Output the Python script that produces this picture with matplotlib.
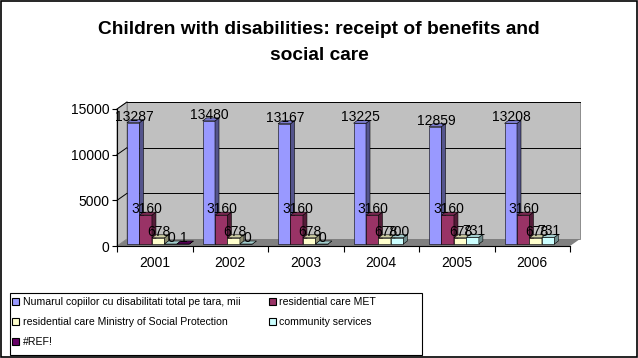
import matplotlib
matplotlib.use("Agg")
import matplotlib.pyplot as plt
import matplotlib.colors as mcolors
from matplotlib.patches import Polygon, Rectangle

years = ["2001", "2002", "2003", "2004", "2005", "2006"]
total_children = [13287, 13480, 13167, 13225, 12859, 13208]
residential_met = [3160, 3160, 3160, 3160, 3160, 3160]
residential_msp = [678, 678, 678, 678, 678, 678]
community = [0, 0, 0, 700, 731, 731]
ref_err = [1, None, None, None, None, None]

series_names = ["Numarul copiilor cu disabilitati total pe tara, mii",
                "residential care MET",
                "residential care Ministry of Social Protection",
                "community services",
                "#REF!"]
series_values = [total_children, residential_met, residential_msp, community, ref_err]
series_colors = ["#9999FF", "#993366", "#FFFFCC", "#CCFFFF", "#660066"]

plt.rcParams["font.family"] = ["Liberation Sans", "DejaVu Sans"]

W, H = 638, 358
fig = plt.figure(figsize=(W / 100, H / 100), dpi=100)
ax = fig.add_axes([117 / W, 1 - 246 / H, (570 - 117) / W, (246 - 109) / H])
ax.set_xlim(0, 6)
ax.set_ylim(0, 15000)
ax.patch.set_visible(False)

# pixel -> data unit conversion for the fake 3d depth
ux = 6 / (570 - 117)
uy = 15000 / (246 - 109)
wall_dx, wall_dy = 10 * ux, 7 * uy
bar_ox, bar_oy = 3 * ux, 2 * uy
bar_dx, bar_dy = 4 * ux, 3 * uy

def poly(pts, fc, ec="none", z=0, lw=0.6):
    ax.add_patch(Polygon(pts, closed=True, facecolor=fc, edgecolor=ec,
                         linewidth=lw, zorder=z, clip_on=False))

# walls and floor
poly([(wall_dx, wall_dy), (6 + wall_dx, wall_dy), (6 + wall_dx, 15000 + wall_dy),
      (wall_dx, 15000 + wall_dy)], "#C0C0C0", "#808080", z=0)
poly([(0, 0), (wall_dx, wall_dy), (wall_dx, 15000 + wall_dy), (0, 15000)],
     "#C0C0C0", "#808080", z=0)
poly([(0, 0), (6, 0), (6 + wall_dx, wall_dy), (wall_dx, wall_dy)], "#808080", z=0.5)

for v in [5000, 10000, 15000]:
    ax.plot([wall_dx, 6 + wall_dx], [v + wall_dy, v + wall_dy], color="black", lw=0.7,
            zorder=0.3, clip_on=False)
    ax.plot([0, wall_dx], [v, v + wall_dy], color="black", lw=0.7, zorder=0.3, clip_on=False)

bar_w = 0.165
z = 1
for i in range(len(years)):
    for k, vals in enumerate(series_values):
        v = vals[i]
        if v is None:
            continue
        left = i + 0.133 + k * bar_w
        col = series_colors[k]
        rgb = mcolors.to_rgb(col)
        side = tuple(c * 0.55 for c in rgb)
        top = tuple(c * 0.8 for c in rgb)
        ax.bar(left, v, width=bar_w, bottom=bar_oy, align="edge", color=col,
               edgecolor="black", linewidth=0.4, zorder=z, clip_on=False)
        b, t, r = bar_oy, bar_oy + v, left + bar_w
        poly([(r, b), (r + bar_dx, b + bar_dy), (r + bar_dx, t + bar_dy), (r, t)],
             side, "black", z=z, lw=0.4)
        poly([(left, t), (r, t), (r + bar_dx, t + bar_dy), (left + bar_dx, t + bar_dy)],
             top, "black", z=z, lw=0.4)
        ax.annotate(str(v), xy=(left + bar_w / 2, t), xytext=(1, 6),
                    textcoords="offset pixels", ha="center", va="center",
                    fontsize=10, zorder=50)
        z += 1

# axes styling
for s in ["top", "right"]:
    ax.spines[s].set_visible(False)
ax.spines["left"].set_linewidth(0.8)
ax.spines["bottom"].set_linewidth(0.8)
ax.set_yticks([0, 5000, 10000, 15000])
ax.tick_params(axis="y", direction="out", length=3.5, width=0.8, pad=2, labelsize=10)
ax.set_xticks(range(7))
ax.set_xticklabels([])
ax.set_xticks([i + 0.5 for i in range(6)], minor=True)
ax.set_xticklabels(years, minor=True)
ax.tick_params(axis="x", which="major", direction="out", length=4, width=0.8)
ax.tick_params(axis="x", which="minor", length=0, pad=7, labelsize=10)

# title
fig.text(0.5, 1 - 29 / H, "Children with disabilities: receipt of benefits and",
         ha="center", va="center", fontsize=13.8, fontweight="bold")
fig.text(0.5, 1 - 55 / H, "social care", ha="center", va="center",
         fontsize=13.8, fontweight="bold")

# legend (row-major order across two columns)
handles = [Rectangle((0, 0), 1, 1, facecolor=c, edgecolor="black", linewidth=0.8)
           for c in series_colors]
order = [0, 2, 4, 1, 3]
fig.legend([handles[j] for j in order], [series_names[j] for j in order],
           loc="upper left", bbox_to_anchor=(12 / W, 1 - 297 / H), ncol=2,
           frameon=False, handlelength=0.7, handleheight=0.7,
           handletextpad=0.3, columnspacing=2.7, labelspacing=0.95, borderpad=0,
           borderaxespad=0, prop={"family": ["Liberation Sans Narrow", "Liberation Sans"], "size": 7.6})
fig.add_artist(Rectangle((10 / W, 1 - 355 / H), (422 - 10) / W, (355 - 293) / H,
                         transform=fig.transFigure, fill=False, edgecolor="black", lw=0.8))

# outer border
fig.add_artist(Rectangle((1 / W, 1 / H), (W - 2) / W, (H - 2) / H, transform=fig.transFigure,
                         fill=False, edgecolor="black", lw=1.2))

fig.savefig("out.png", dpi=100)
